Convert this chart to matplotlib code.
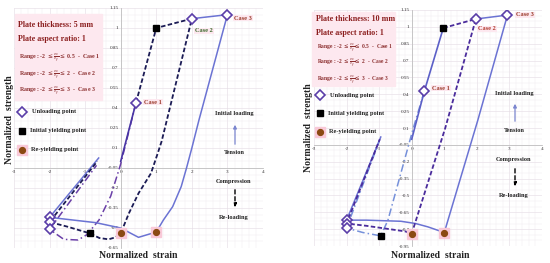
import matplotlib
matplotlib.use("Agg")
import matplotlib.pyplot as plt
from matplotlib.patches import Rectangle, FancyArrowPatch
from matplotlib.ticker import MultipleLocator

W, H = 550, 263

# ---------------- data: plate thickness 5 mm (left) ----------------
l_init_x = [0.0, 0.43]
l_init_y = [0.0, 0.44]
l_case1_x = [0.43, 0.0, -0.28, -0.61, -0.95, -1.2, -1.6, -2.0, -0.68]
l_case1_y = [0.44, -0.02, -0.26, -0.44, -0.55, -0.59, -0.585, -0.51, -0.03]
l_case2_x = [0.43, 1.0, 2.0, 1.15, 1.04, 0.85, 0.5, 0.23, 0.0, -0.15, -0.34, -0.6, -0.87, -1.5, -2.0, -0.66]
l_case2_y = [0.44, 1.0, 1.07, 0.15, 0.06, -0.09, -0.24, -0.39, -0.54, -0.57, -0.585, -0.575, -0.54, -0.49, -0.455, 0.0]
l_case3_x = [2.0, 3.0, 2.2, 2.0, 1.85, 1.7, 1.46, 1.2, 1.0, 0.5, 0.0, -0.7, -2.0, -0.62]
l_case3_y = [1.07, 1.10, 0.31, 0.1, -0.05, -0.19, -0.34, -0.44, -0.53, -0.57, -0.5, -0.46, -0.42, 0.025]
l_unload_x = [0.43, 2.0, 3.0, -2.0, -2.0, -2.0]
l_unload_y = [0.44, 1.07, 1.10, -0.42, -0.455, -0.51]
l_yield_x = [1.0, -0.87]
l_yield_y = [1.0, -0.54]
l_reyield_x = [0.0, 1.0]
l_reyield_y = [-0.54, -0.53]
l_yticks = [-0.65, -0.5, -0.35, -0.2, -0.05, 0.1, 0.25, 0.4, 0.55, 0.7, 0.85, 1.0, 1.15]
l_yticklabels = ['-0.65', '-0.5', '-0.35', '-0.2', '-0.05', '0.1', '0.25', '0.4', '0.55', '0.7', '0.85', '1', '1.15']

# ---------------- data: plate thickness 10 mm (right) ----------------
r_init_x = [0.0, 0.39, 0.97]
r_init_y = [0.0, 0.43, 0.99]
r_case1_x = [0.39, 0.03, -0.73, -0.95, -1.5, -2.0, -1.0]
r_case1_y = [0.43, 0.08, -0.72, -0.86, -0.83, -0.79, -0.02]
r_case2_x = [0.97, 1.97, 1.03, 0.0, -0.2, -1.4, -2.0, -0.98]
r_case2_y = [0.99, 1.07, 0.10, -0.84, -0.82, -0.77, -0.75, 0.0]
r_case3_x = [1.97, 2.94, 2.03, 1.0, 0.5, 0.12, -0.33, -1.39, -2.0, -0.95]
r_case3_y = [1.07, 1.105, 0.17, -0.83, -0.78, -0.75, -0.73, -0.72, -0.72, 0.02]
r_unload_x = [0.39, 1.97, 2.94, -2.0, -2.0, -2.0]
r_unload_y = [0.43, 1.07, 1.105, -0.72, -0.75, -0.79]
r_yield_x = [0.97, -0.95]
r_yield_y = [0.99, -0.86]
r_reyield_x = [0.0, 1.0]
r_reyield_y = [-0.84, -0.83]
r_yticks = [-0.95, -0.8, -0.65, -0.5, -0.35, -0.2, -0.05, 0.1, 0.25, 0.4, 0.55, 0.7, 0.85, 1.0, 1.15]
r_yticklabels = ['-0.95', '-0.8', '-0.65', '-0.5', '-0.35', '-0.2', '-0.05', '0.1', '0.25', '0.4', '0.55', '0.7', '0.85', '1', '1.15']

xticks = [-3, -2, -1, 0, 1, 2, 3, 4]
case_names = ['Case 1', 'Case 2', 'Case 3']
range_tops = ['0.5', '2', '3']

SERIF = 'Liberation Serif'
DARK_RED = '#8b1e1e'
PINK = '#fde8ef'


def px(x, y):
    return x / W, 1 - y / H


def setup_axes(ax, ymin, ymax, yticks, ylabels):
    ax.set_xlim(-3, 4)
    ax.set_ylim(ymin, ymax)
    ax.set_facecolor('none')
    for s in ['top', 'right']:
        ax.spines[s].set_visible(False)
    ax.spines['left'].set_position(('data', 0))
    ax.spines['bottom'].set_position(('data', -0.05))
    for s in ['left', 'bottom']:
        ax.spines[s].set_color('#c0c0c0')
        ax.spines[s].set_linewidth(0.6)
    ax.set_xticks(xticks)
    ax.set_xticklabels([str(t) for t in xticks])
    ax.set_yticks(yticks)
    ax.set_yticklabels(ylabels)
    ax.xaxis.set_minor_locator(MultipleLocator(0.2))
    ax.yaxis.set_minor_locator(MultipleLocator(0.05))
    ax.tick_params(which='both', length=0, labelsize=3.7, pad=1.5, labelcolor='#333333')
    for lab in ax.get_xticklabels() + ax.get_yticklabels():
        lab.set_fontfamily(SERIF)
    ax.grid(which='major', color='#e4dbe4', lw=0.4)
    ax.grid(which='minor', color='#eee7ee', lw=0.3)
    ax.set_axisbelow(True)


def draw_curves(ax, init, c1, c2, c3, unload, yld, reyld, colors):
    ax.plot(c1[0], c1[1], color=colors[0], lw=1.1, ls=(0, (5, 2, 1, 2)), zorder=3)
    ax.plot(c2[0], c2[1], color=colors[1], lw=1.3, ls=(0, (2.5, 1.3)), zorder=4)
    ax.plot(c3[0], c3[1], color=colors[2], lw=1.1, zorder=3)
    ax.plot(init[0], init[1], color=colors[3], lw=1.2, zorder=4)
    ax.plot(reyld[0], reyld[1], ls='none', marker='s', ms=7, color='#f9c9d8', zorder=5)
    ax.plot(reyld[0], reyld[1], ls='none', marker='o', ms=4.2, color='#8b4a12', zorder=6)
    ax.plot(yld[0], yld[1], ls='none', marker='s', ms=3.8, color='black', zorder=6)
    ax.plot(unload[0], unload[1], ls='none', marker='D', ms=4.6, mfc='white',
            mec='#5a3da8', mew=1.2, zorder=6)


fig = plt.figure(figsize=(W / 100, H / 100), dpi=100)

# pink text blocks (behind axes)
fig.patches.append(Rectangle(px(15, 100), 87 / W, 86 / H, transform=fig.transFigure,
                             color=PINK, zorder=0))
fig.patches.append(Rectangle(px(312, 86), 83 / W, 74 / H, transform=fig.transFigure,
                             color=PINK, zorder=0))

axL = fig.add_axes([14 / W, 1 - 248 / H, 249 / W, 240 / H])
setup_axes(axL, -0.65, 1.15, l_yticks, l_yticklabels)
draw_curves(axL, (l_init_x, l_init_y), (l_case1_x, l_case1_y), (l_case2_x, l_case2_y),
            (l_case3_x, l_case3_y), (l_unload_x, l_unload_y), (l_yield_x, l_yield_y),
            (l_reyield_x, l_reyield_y), ['#6a3fa8', '#1b1b55', '#6b73d3', '#4834a4'])

axR = fig.add_axes([314 / W, 1 - 246 / H, 228 / W, 236 / H])
setup_axes(axR, -0.95, 1.15, r_yticks, r_yticklabels)
draw_curves(axR, (r_init_x, r_init_y), (r_case1_x, r_case1_y), (r_case2_x, r_case2_y),
            (r_case3_x, r_case3_y), (r_unload_x, r_unload_y), (r_yield_x, r_yield_y),
            (r_reyield_x, r_reyield_y), ['#7590da', '#4a2c9c', '#6b73d3', '#5b5fc7'])


def txt(x, y, s, size, color='#222222', weight='bold', ha='left', rot=0, bg=None):
    kw = {}
    if bg:
        kw['bbox'] = dict(boxstyle='square,pad=0.15', fc=bg, ec='none')
    fig.text(*px(x, y), s, fontsize=size, color=color, fontweight=weight, ha=ha,
             va='center', rotation=rot, family=SERIF, **kw)


def mark(x, y, **kw):
    fig.add_artist(plt.Line2D([x / W], [1 - y / H], transform=fig.transFigure, ls='none', **kw))


def panel_text(x0, ys, thick, cases_xy, case_cols, arr, rsize):
    txt(x0, ys[0], f'Plate thickness: {thick} mm', 5.8, DARK_RED)
    txt(x0, ys[1], 'Plate aspect ratio: 1', 5.8, DARK_RED)
    for i in range(3):
        txt(x0 + 1, ys[2 + i], r'Range : -2 $\leq \frac{\varepsilon_x}{\varepsilon_y} \leq$ '
            + range_tops[i] + '  -  ' + case_names[i], rsize, '#8b2e2e')
    # legend
    mark(x0 + 4, ys[5], marker='D', ms=4.6, mfc='white', mec='#5a3da8', mew=1.2)
    txt(x0 + 14, ys[5], 'Unloading point', 4.6)
    mark(x0 + 4, ys[6], marker='s', ms=3.8, color='black')
    txt(x0 + 12, ys[6], 'Initial yielding point', 4.6)
    mark(x0 + 4, ys[7], marker='s', ms=7, color='#f9c9d8')
    mark(x0 + 4, ys[7], marker='o', ms=4.2, color='#8b4a12')
    txt(x0 + 13, ys[7], 'Re-yielding point', 4.6)
    for i in range(3):
        txt(cases_xy[i][0], cases_xy[i][1], case_names[i], 4.6, case_cols[i], ha='center', bg=PINK)
    # direction annotations
    ax_, il_y, ten_y, a1, a2, comp_y, b1, b2, rel_y = arr
    txt(ax_, il_y, 'Initial loading', 4.6, ha='center')
    fig.add_artist(FancyArrowPatch(px(ax_ + 1, a2), px(ax_ + 1, a1), transform=fig.transFigure,
                                   arrowstyle='-|>', mutation_scale=5, color='#7b86cf', lw=0.9))
    txt(ax_, ten_y, 'Tension', 4.6, ha='center')
    txt(ax_, comp_y, 'Compression', 4.6, ha='center')
    fig.add_artist(FancyArrowPatch(px(ax_ + 1, b1), px(ax_ + 1, b2), transform=fig.transFigure,
                                   arrowstyle='-|>', mutation_scale=5, color='black', lw=1.0,
                                   linestyle=(0, (3, 2))))
    txt(ax_, rel_y, 'Re-loading', 4.6, ha='center')


panel_text(18, [25, 39, 58, 75, 91, 112, 131, 150], 5,
           [(153, 102), (204, 31), (243, 18)], ['#9b3b2b', '#3e6b2f', '#9b3b2b'],
           (234, 114, 152, 122, 147, 181, 187, 210, 218), 4.2)
panel_text(316, [19, 33, 48, 63, 80, 95, 113, 132], 10,
           [(441, 88), (487, 29), (525, 15)], ['#9b3b2b', '#b03a2e', '#9b3b2b'],
           (514, 94, 131, 101, 124, 160, 166, 189, 196), 4.0)

txt(10, 120, 'Normalized  strength', 7, rot=90, ha='center')
txt(308, 128, 'Normalized  strength', 7, rot=90, ha='center')
txt(138, 256, 'Normalized  strain', 7, ha='center')
txt(430, 255, 'Normalized  strain', 7, ha='center')

fig.savefig('out.png', dpi=100)
